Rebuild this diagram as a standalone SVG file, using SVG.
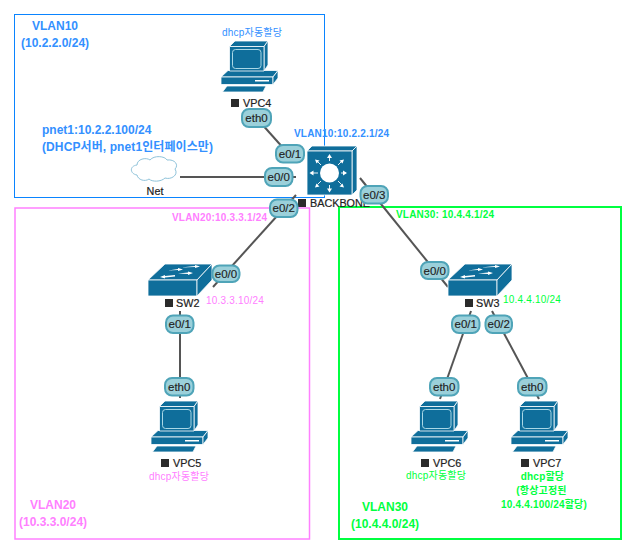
<svg xmlns="http://www.w3.org/2000/svg" width="633" height="550" viewBox="0 0 633 550">
<style>
text{font-family:"Liberation Sans","Noto Sans CJK KR",sans-serif}
.frame{fill:none}
.lnk{stroke:#555;stroke-width:2;fill:none}
.dev{fill:#0f6e9b;stroke:#fff;stroke-width:.8;stroke-linejoin:round}
.wa{fill:#fff;stroke:none}
.hl{fill:none;stroke:#a9d8e6;stroke-width:1}
.badge rect{fill:#9bd0da;stroke:#4fa4b8;stroke-width:2}
.badge text{font-size:11.500px;fill:#222;text-anchor:middle;stroke:#222;stroke-width:.15}
.name{font-size:10.800px;fill:#222;stroke:#222;stroke-width:.2}
.sq{fill:#2b2b2b}
.b{font-weight:bold}
.blue{fill:#3390ff}.pink{fill:#ff80ff}.green{fill:#00ff40}
.s10{font-size:10px}.s12{font-size:12px}
.ls{letter-spacing:.2px}
</style>
<defs>
<g id="pc">
<path class="dev" d="M0 36L7 29.500H57L52 36Z"/>
<path class="dev" d="M0 36H52V43.500H0Z"/>
<path class="dev" d="M52 36L57 29.500V37L52 43.500Z"/>
<rect x="34" y="39" width="14" height="1.500" fill="#fff"/>
<path class="dev" d="M14 0H47L43 5.500H8.500Z"/>
<path class="dev" d="M43 5.500L47 0V24L43 30Z"/>
<path class="dev" d="M8.500 5.500H43V30H8.500Z"/>
<rect x="11.500" y="8.500" width="28.500" height="19" rx="3" class="hl"/>
<path class="dev" d="M1.500 51L6 45H45L42 51Z"/>
</g>
<g id="sw">
<path class="dev" d="M0 16L17 0H64L49 16Z"/>
<path class="dev" d="M0 16H49V32H0Z"/>
<path class="dev" d="M49 16L64 0V16L49 32Z"/>
<path class="wa" d="M20 6.500L30 5V4L35 5.500L30 7V6ZM33 3.500L47 2V1L52 2.500L47 4V3ZM12 13L17 11V12L27 11V12.500L17 13.500V14.500ZM30 9.500L40 8.500V7.500L45 9L40 11V10Z"/>
</g>
</defs>
<g id="frames">
<rect class="frame" x="14.500" y="14.500" width="310" height="183" stroke="#0a84ff" stroke-width="1"/>
<rect class="frame" x="15" y="208" width="294.500" height="331" stroke="#ff80ff" stroke-width="1.500"/>
<rect class="frame" x="339" y="207" width="282" height="332" stroke="#00ff40" stroke-width="2"/>
</g>
<g id="connectors">
<path class="lnk" d="M260 122L285 150"/>
<path class="lnk" d="M180 177H296"/>
<path class="lnk" d="M296 195L213 287"/>
<path class="lnk" d="M360 178L448 287"/>
<path class="lnk" d="M180 311V398"/>
<path class="lnk" d="M471 311L440 399"/>
<path class="lnk" d="M492 311L539 399"/>
</g>
<g id="VPC4"><use href="#pc" x="221" y="41"/><rect class="sq" x="231" y="99" width="8" height="8"/><text class="name" x="243" y="107">VPC4</text></g>
<g id="VPC5"><use href="#pc" x="151" y="401"/><rect class="sq" x="161" y="459" width="8" height="8"/><text class="name" x="173" y="467">VPC5</text></g>
<g id="VPC6"><use href="#pc" x="411" y="401"/><rect class="sq" x="421" y="459" width="8" height="8"/><text class="name" x="433" y="467">VPC6</text></g>
<g id="VPC7"><use href="#pc" x="511" y="401"/><rect class="sq" x="521" y="459" width="8" height="8"/><text class="name" x="533" y="467">VPC7</text></g>
<g id="SW2"><use href="#sw" x="148" y="264"/><rect class="sq" x="165" y="299" width="8" height="8"/><text class="name" x="176" y="307">SW2</text></g>
<g id="SW3"><use href="#sw" x="448" y="264"/><rect class="sq" x="465" y="299" width="8" height="8"/><text class="name" x="476" y="307">SW3</text></g>
<g id="BACKBONE">
<path class="dev" d="M307 151L312 146H357L352 151Z"/>
<path class="dev" d="M352 151L357 146V190L352 195Z"/>
<path class="dev" d="M307 151H352V195H307Z"/>
<circle cx="329.500" cy="173" r="9.500" fill="#fff"/>
<path stroke="#fff" stroke-width=".9" fill="none" d="M329.500 161V157M329.500 185V189M318 173H313M341 173H346M321 165L317.500 161.500M338 165L341.500 161.500M321 181L317.500 184.500M338 181L341.500 184.500"/>
<path class="wa" d="M329.500 154L332 158H327ZM329.500 192.500L332 188.500H327ZM309.500 173L313.500 170.500V175.500ZM347 173L343 170.500V175.500ZM315 159.500L319.500 160.500L316.500 163.500ZM344 159.500L339.500 160.500L342.500 163.500ZM315 187.500L319.500 186.500L316.500 183.500ZM344 187.500L339.500 186.500L342.500 183.500Z"/>
<rect class="sq" x="298" y="199" width="8" height="8"/><text class="name" x="310" y="207">BACKBONE</text>
</g>
<g id="Net">
<path d="M137 175C130 174 129 166 137 165C137 159 146 157 150 160C154 155 165 156 167 160C175 159 179 165 175 169C179 175 171 180 165 178C161 182 152 182 149 179C145 182 138 180 137 175Z" fill="#fff" stroke="#8fc3da" stroke-width="1"/>
<text class="name" x="155" y="195" text-anchor="middle">Net</text>
</g>
<g id="labels">
<text class="b blue s12" x="32" y="30">VLAN10</text>
<text class="b blue s12" x="21" y="47">(10.2.2.0/24)</text>
<text class="blue s10 ls" x="222" y="36">dhcp자동할당</text>
<text class="b blue s12" x="42" y="134">pnet1:10.2.2.100/24</text>
<text class="b blue s12" x="42" y="151" letter-spacing=".1">(DHCP서버, pnet1인터페이스만)</text>
<text class="b blue s10 ls" x="294" y="137">VLAN10:10.2.2.1/24</text>
<text class="b pink s10 ls" x="172" y="221">VLAN20:10.3.3.1/24</text>
<text class="pink s10 ls" x="206" y="304">10.3.3.10/24</text>
<text class="pink s10 ls" x="149" y="480">dhcp자동할당</text>
<text class="b pink s12" x="30" y="509">VLAN20</text>
<text class="b pink s12" x="19" y="526">(10.3.3.0/24)</text>
<text class="b green s10 ls" x="396" y="218">VLAN30: 10.4.4.1/24</text>
<text class="green s10 ls" x="503" y="303">10.4.4.10/24</text>
<text class="green s10 ls" x="406" y="479">dhcp자동할당</text>
<text class="b green s10 ls" x="542.500" y="480" text-anchor="middle">dhcp할당</text>
<text class="b green s10 ls" x="541.500" y="494" text-anchor="middle">(항상고정된</text>
<text class="b green s10 ls" x="544" y="508" text-anchor="middle">10.4.4.100/24할당)</text>
<text class="b green s12" x="362" y="511">VLAN30</text>
<text class="b green s12" x="351" y="528">(10.4.4.0/24)</text>
</g>
<g id="ports">
<g class="badge"><rect x="242" y="109" width="29" height="18" rx="7"/><text x="256.500" y="122">eth0</text></g>
<g class="badge"><rect x="276" y="145" width="28" height="17.500" rx="7"/><text x="290" y="158">e0/1</text></g>
<g class="badge"><rect x="265" y="168" width="27.500" height="18" rx="7"/><text x="278.700" y="181">e0/0</text></g>
<g class="badge"><rect x="270" y="199.500" width="27.500" height="17.500" rx="7"/><text x="283.700" y="212">e0/2</text></g>
<g class="badge"><rect x="360.500" y="186" width="27.500" height="17.500" rx="7"/><text x="374.200" y="198.500">e0/3</text></g>
<g class="badge"><rect x="212.500" y="265.500" width="27" height="16.500" rx="7"/><text x="226" y="278">e0/0</text></g>
<g class="badge"><rect x="421" y="262" width="27.500" height="17" rx="7"/><text x="434.700" y="274.500">e0/0</text></g>
<g class="badge"><rect x="166" y="315.500" width="27.500" height="17.500" rx="7"/><text x="179.700" y="328">e0/1</text></g>
<g class="badge"><rect x="452" y="315.500" width="27.500" height="17.500" rx="7"/><text x="465.700" y="328">e0/1</text></g>
<g class="badge"><rect x="485.500" y="315.500" width="26.500" height="17.500" rx="7"/><text x="498.700" y="328">e0/2</text></g>
<g class="badge"><rect x="165" y="378" width="28.500" height="17.500" rx="7"/><text x="179.200" y="390.500">eth0</text></g>
<g class="badge"><rect x="430" y="378" width="28.500" height="17.500" rx="7"/><text x="444.200" y="390.500">eth0</text></g>
<g class="badge"><rect x="518" y="378" width="28.500" height="17.500" rx="7"/><text x="532.200" y="390.500">eth0</text></g>
</g>
</svg>
